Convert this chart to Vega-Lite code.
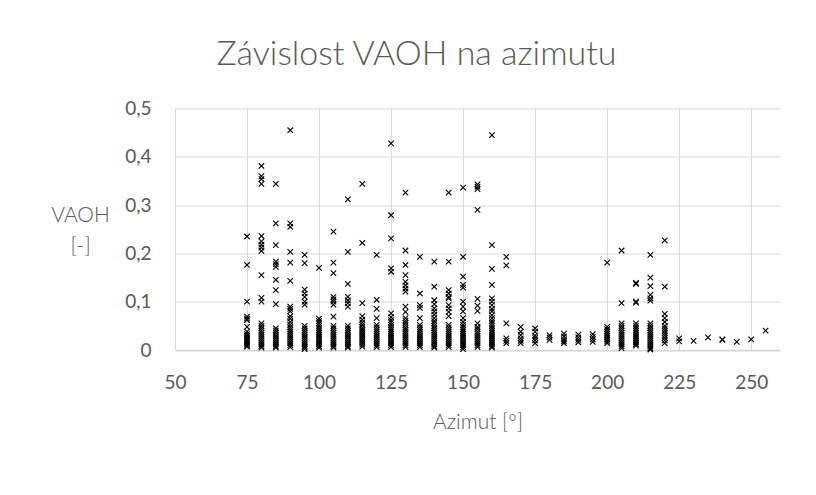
{
  "$schema": "https://vega.github.io/schema/vega-lite/v6.json",
  "width": 605,
  "height": 241.5,
  "autosize": "none",
  "padding": {"left": 175, "top": 108.5, "right": 36, "bottom": 145},
  "background": "white",
  "title": {
    "text": "Závislost VAOH na azimutu",
    "anchor": "middle",
    "frame": "group",
    "dx": -61,
    "baseline": "alphabetic",
    "offset": 1,
    "font": "Lato",
    "fontSize": 34,
    "fontWeight": 300,
    "color": "#595959"
  },
  "config": {
    "view": {"stroke": null},
    "axis": {
      "labelFont": "Lato",
      "titleFont": "Lato",
      "labelColor": "#595959",
      "titleColor": "#595959",
      "labelFontSize": 19,
      "titleFontSize": 21,
      "titleFontWeight": 300,
      "gridColor": "#d9d9d9",
      "gridWidth": 1,
      "ticks": false,
      "tickSize": 0
    }
  },
  "data": {
    "values": [
      {"azimut":75,"vaoh":0.235},{"azimut":75,"vaoh":0.176},{"azimut":75,"vaoh":0.1},{"azimut":75,"vaoh":0.069},{"azimut":75,"vaoh":0.065},{"azimut":75,"vaoh":0.062},{"azimut":75,"vaoh":0.048},{"azimut":75,"vaoh":0.038},{"azimut":75,"vaoh":0.033},{"azimut":75,"vaoh":0.029},{"azimut":75,"vaoh":0.025},{"azimut":75,"vaoh":0.021},{"azimut":75,"vaoh":0.018},{"azimut":75,"vaoh":0.015},{"azimut":75,"vaoh":0.012},{"azimut":75,"vaoh":0.009},{"azimut":75,"vaoh":0.007},
      {"azimut":80,"vaoh":0.381},{"azimut":80,"vaoh":0.36},{"azimut":80,"vaoh":0.354},{"azimut":80,"vaoh":0.344},{"azimut":80,"vaoh":0.236},{"azimut":80,"vaoh":0.225},{"azimut":80,"vaoh":0.218},{"azimut":80,"vaoh":0.212},{"azimut":80,"vaoh":0.205},{"azimut":80,"vaoh":0.155},{"azimut":80,"vaoh":0.108},{"azimut":80,"vaoh":0.1},{"azimut":80,"vaoh":0.055},{"azimut":80,"vaoh":0.05},{"azimut":80,"vaoh":0.045},{"azimut":80,"vaoh":0.04},{"azimut":80,"vaoh":0.036},{"azimut":80,"vaoh":0.032},{"azimut":80,"vaoh":0.028},{"azimut":80,"vaoh":0.024},{"azimut":80,"vaoh":0.02},{"azimut":80,"vaoh":0.016},{"azimut":80,"vaoh":0.012},{"azimut":80,"vaoh":0.008},{"azimut":80,"vaoh":0.005},
      {"azimut":85,"vaoh":0.344},{"azimut":85,"vaoh":0.262},{"azimut":85,"vaoh":0.217},{"azimut":85,"vaoh":0.183},{"azimut":85,"vaoh":0.178},{"azimut":85,"vaoh":0.172},{"azimut":85,"vaoh":0.145},{"azimut":85,"vaoh":0.124},{"azimut":85,"vaoh":0.095},{"azimut":85,"vaoh":0.045},{"azimut":85,"vaoh":0.04},{"azimut":85,"vaoh":0.036},{"azimut":85,"vaoh":0.032},{"azimut":85,"vaoh":0.028},{"azimut":85,"vaoh":0.024},{"azimut":85,"vaoh":0.02},{"azimut":85,"vaoh":0.016},{"azimut":85,"vaoh":0.012},{"azimut":85,"vaoh":0.008},{"azimut":85,"vaoh":0.005},
      {"azimut":90,"vaoh":0.455},{"azimut":90,"vaoh":0.262},{"azimut":90,"vaoh":0.255},{"azimut":90,"vaoh":0.203},{"azimut":90,"vaoh":0.181},{"azimut":90,"vaoh":0.143},{"azimut":90,"vaoh":0.09},{"azimut":90,"vaoh":0.085},{"azimut":90,"vaoh":0.08},{"azimut":90,"vaoh":0.07},{"azimut":90,"vaoh":0.065},{"azimut":90,"vaoh":0.058},{"azimut":90,"vaoh":0.052},{"azimut":90,"vaoh":0.047},{"azimut":90,"vaoh":0.042},{"azimut":90,"vaoh":0.038},{"azimut":90,"vaoh":0.034},{"azimut":90,"vaoh":0.03},{"azimut":90,"vaoh":0.026},{"azimut":90,"vaoh":0.022},{"azimut":90,"vaoh":0.018},{"azimut":90,"vaoh":0.014},{"azimut":90,"vaoh":0.01},{"azimut":90,"vaoh":0.006},
      {"azimut":95,"vaoh":0.197},{"azimut":95,"vaoh":0.18},{"azimut":95,"vaoh":0.125},{"azimut":95,"vaoh":0.117},{"azimut":95,"vaoh":0.11},{"azimut":95,"vaoh":0.1},{"azimut":95,"vaoh":0.094},{"azimut":95,"vaoh":0.05},{"azimut":95,"vaoh":0.045},{"azimut":95,"vaoh":0.04},{"azimut":95,"vaoh":0.036},{"azimut":95,"vaoh":0.032},{"azimut":95,"vaoh":0.028},{"azimut":95,"vaoh":0.024},{"azimut":95,"vaoh":0.02},{"azimut":95,"vaoh":0.016},{"azimut":95,"vaoh":0.012},{"azimut":95,"vaoh":0.008},{"azimut":95,"vaoh":0.005},{"azimut":95,"vaoh":0.002},
      {"azimut":100,"vaoh":0.17},{"azimut":100,"vaoh":0.065},{"azimut":100,"vaoh":0.06},{"azimut":100,"vaoh":0.055},{"azimut":100,"vaoh":0.05},{"azimut":100,"vaoh":0.045},{"azimut":100,"vaoh":0.04},{"azimut":100,"vaoh":0.036},{"azimut":100,"vaoh":0.032},{"azimut":100,"vaoh":0.028},{"azimut":100,"vaoh":0.024},{"azimut":100,"vaoh":0.02},{"azimut":100,"vaoh":0.016},{"azimut":100,"vaoh":0.012},{"azimut":100,"vaoh":0.008},{"azimut":100,"vaoh":0.005},
      {"azimut":105,"vaoh":0.245},{"azimut":105,"vaoh":0.181},{"azimut":105,"vaoh":0.159},{"azimut":105,"vaoh":0.11},{"azimut":105,"vaoh":0.105},{"azimut":105,"vaoh":0.1},{"azimut":105,"vaoh":0.094},{"azimut":105,"vaoh":0.069},{"azimut":105,"vaoh":0.05},{"azimut":105,"vaoh":0.045},{"azimut":105,"vaoh":0.04},{"azimut":105,"vaoh":0.036},{"azimut":105,"vaoh":0.032},{"azimut":105,"vaoh":0.028},{"azimut":105,"vaoh":0.024},{"azimut":105,"vaoh":0.02},{"azimut":105,"vaoh":0.016},{"azimut":105,"vaoh":0.012},{"azimut":105,"vaoh":0.008},{"azimut":105,"vaoh":0.005},
      {"azimut":110,"vaoh":0.312},{"azimut":110,"vaoh":0.203},{"azimut":110,"vaoh":0.137},{"azimut":110,"vaoh":0.11},{"azimut":110,"vaoh":0.103},{"azimut":110,"vaoh":0.097},{"azimut":110,"vaoh":0.09},{"azimut":110,"vaoh":0.05},{"azimut":110,"vaoh":0.045},{"azimut":110,"vaoh":0.04},{"azimut":110,"vaoh":0.036},{"azimut":110,"vaoh":0.032},{"azimut":110,"vaoh":0.028},{"azimut":110,"vaoh":0.024},{"azimut":110,"vaoh":0.02},{"azimut":110,"vaoh":0.016},{"azimut":110,"vaoh":0.012},{"azimut":110,"vaoh":0.008},{"azimut":110,"vaoh":0.005},
      {"azimut":115,"vaoh":0.344},{"azimut":115,"vaoh":0.222},{"azimut":115,"vaoh":0.097},{"azimut":115,"vaoh":0.07},{"azimut":115,"vaoh":0.063},{"azimut":115,"vaoh":0.057},{"azimut":115,"vaoh":0.052},{"azimut":115,"vaoh":0.047},{"azimut":115,"vaoh":0.043},{"azimut":115,"vaoh":0.039},{"azimut":115,"vaoh":0.035},{"azimut":115,"vaoh":0.031},{"azimut":115,"vaoh":0.027},{"azimut":115,"vaoh":0.023},{"azimut":115,"vaoh":0.019},{"azimut":115,"vaoh":0.015},{"azimut":115,"vaoh":0.011},{"azimut":115,"vaoh":0.007},
      {"azimut":120,"vaoh":0.197},{"azimut":120,"vaoh":0.104},{"azimut":120,"vaoh":0.085},{"azimut":120,"vaoh":0.066},{"azimut":120,"vaoh":0.052},{"azimut":120,"vaoh":0.047},{"azimut":120,"vaoh":0.042},{"azimut":120,"vaoh":0.038},{"azimut":120,"vaoh":0.034},{"azimut":120,"vaoh":0.03},{"azimut":120,"vaoh":0.026},{"azimut":120,"vaoh":0.022},{"azimut":120,"vaoh":0.018},{"azimut":120,"vaoh":0.014},{"azimut":120,"vaoh":0.01},{"azimut":120,"vaoh":0.006},
      {"azimut":125,"vaoh":0.428},{"azimut":125,"vaoh":0.279},{"azimut":125,"vaoh":0.231},{"azimut":125,"vaoh":0.169},{"azimut":125,"vaoh":0.162},{"azimut":125,"vaoh":0.076},{"azimut":125,"vaoh":0.068},{"azimut":125,"vaoh":0.062},{"azimut":125,"vaoh":0.057},{"azimut":125,"vaoh":0.052},{"azimut":125,"vaoh":0.047},{"azimut":125,"vaoh":0.042},{"azimut":125,"vaoh":0.038},{"azimut":125,"vaoh":0.034},{"azimut":125,"vaoh":0.03},{"azimut":125,"vaoh":0.026},{"azimut":125,"vaoh":0.022},{"azimut":125,"vaoh":0.018},{"azimut":125,"vaoh":0.014},{"azimut":125,"vaoh":0.01},{"azimut":125,"vaoh":0.006},
      {"azimut":130,"vaoh":0.326},{"azimut":130,"vaoh":0.206},{"azimut":130,"vaoh":0.176},{"azimut":130,"vaoh":0.155},{"azimut":130,"vaoh":0.141},{"azimut":130,"vaoh":0.134},{"azimut":130,"vaoh":0.127},{"azimut":130,"vaoh":0.121},{"azimut":130,"vaoh":0.09},{"azimut":130,"vaoh":0.079},{"azimut":130,"vaoh":0.066},{"azimut":130,"vaoh":0.061},{"azimut":130,"vaoh":0.056},{"azimut":130,"vaoh":0.051},{"azimut":130,"vaoh":0.046},{"azimut":130,"vaoh":0.042},{"azimut":130,"vaoh":0.038},{"azimut":130,"vaoh":0.034},{"azimut":130,"vaoh":0.03},{"azimut":130,"vaoh":0.026},{"azimut":130,"vaoh":0.022},{"azimut":130,"vaoh":0.018},{"azimut":130,"vaoh":0.014},{"azimut":130,"vaoh":0.01},{"azimut":130,"vaoh":0.006},
      {"azimut":135,"vaoh":0.193},{"azimut":135,"vaoh":0.117},{"azimut":135,"vaoh":0.093},{"azimut":135,"vaoh":0.087},{"azimut":135,"vaoh":0.066},{"azimut":135,"vaoh":0.052},{"azimut":135,"vaoh":0.047},{"azimut":135,"vaoh":0.042},{"azimut":135,"vaoh":0.038},{"azimut":135,"vaoh":0.034},{"azimut":135,"vaoh":0.03},{"azimut":135,"vaoh":0.026},{"azimut":135,"vaoh":0.022},{"azimut":135,"vaoh":0.018},{"azimut":135,"vaoh":0.014},{"azimut":135,"vaoh":0.01},{"azimut":135,"vaoh":0.006},
      {"azimut":140,"vaoh":0.183},{"azimut":140,"vaoh":0.131},{"azimut":140,"vaoh":0.103},{"azimut":140,"vaoh":0.095},{"azimut":140,"vaoh":0.086},{"azimut":140,"vaoh":0.08},{"azimut":140,"vaoh":0.073},{"azimut":140,"vaoh":0.066},{"azimut":140,"vaoh":0.06},{"azimut":140,"vaoh":0.055},{"azimut":140,"vaoh":0.05},{"azimut":140,"vaoh":0.045},{"azimut":140,"vaoh":0.04},{"azimut":140,"vaoh":0.036},{"azimut":140,"vaoh":0.032},{"azimut":140,"vaoh":0.028},{"azimut":140,"vaoh":0.024},{"azimut":140,"vaoh":0.02},{"azimut":140,"vaoh":0.016},{"azimut":140,"vaoh":0.012},{"azimut":140,"vaoh":0.008},{"azimut":140,"vaoh":0.005},
      {"azimut":145,"vaoh":0.326},{"azimut":145,"vaoh":0.183},{"azimut":145,"vaoh":0.124},{"azimut":145,"vaoh":0.117},{"azimut":145,"vaoh":0.11},{"azimut":145,"vaoh":0.107},{"azimut":145,"vaoh":0.093},{"azimut":145,"vaoh":0.086},{"azimut":145,"vaoh":0.079},{"azimut":145,"vaoh":0.07},{"azimut":145,"vaoh":0.052},{"azimut":145,"vaoh":0.047},{"azimut":145,"vaoh":0.042},{"azimut":145,"vaoh":0.038},{"azimut":145,"vaoh":0.034},{"azimut":145,"vaoh":0.03},{"azimut":145,"vaoh":0.026},{"azimut":145,"vaoh":0.022},{"azimut":145,"vaoh":0.018},{"azimut":145,"vaoh":0.014},{"azimut":145,"vaoh":0.01},{"azimut":145,"vaoh":0.006},
      {"azimut":150,"vaoh":0.336},{"azimut":150,"vaoh":0.193},{"azimut":150,"vaoh":0.152},{"azimut":150,"vaoh":0.135},{"azimut":150,"vaoh":0.129},{"azimut":150,"vaoh":0.1},{"azimut":150,"vaoh":0.09},{"azimut":150,"vaoh":0.08},{"azimut":150,"vaoh":0.066},{"azimut":150,"vaoh":0.058},{"azimut":150,"vaoh":0.052},{"azimut":150,"vaoh":0.047},{"azimut":150,"vaoh":0.042},{"azimut":150,"vaoh":0.038},{"azimut":150,"vaoh":0.034},{"azimut":150,"vaoh":0.03},{"azimut":150,"vaoh":0.026},{"azimut":150,"vaoh":0.022},{"azimut":150,"vaoh":0.018},{"azimut":150,"vaoh":0.014},{"azimut":150,"vaoh":0.01},{"azimut":150,"vaoh":0.006},{"azimut":150,"vaoh":0.002},
      {"azimut":155,"vaoh":0.343},{"azimut":155,"vaoh":0.338},{"azimut":155,"vaoh":0.333},{"azimut":155,"vaoh":0.29},{"azimut":155,"vaoh":0.106},{"azimut":155,"vaoh":0.092},{"azimut":155,"vaoh":0.081},{"azimut":155,"vaoh":0.055},{"azimut":155,"vaoh":0.048},{"azimut":155,"vaoh":0.043},{"azimut":155,"vaoh":0.038},{"azimut":155,"vaoh":0.034},{"azimut":155,"vaoh":0.03},{"azimut":155,"vaoh":0.026},{"azimut":155,"vaoh":0.022},{"azimut":155,"vaoh":0.018},{"azimut":155,"vaoh":0.014},{"azimut":155,"vaoh":0.01},{"azimut":155,"vaoh":0.006},
      {"azimut":160,"vaoh":0.445},{"azimut":160,"vaoh":0.217},{"azimut":160,"vaoh":0.168},{"azimut":160,"vaoh":0.135},{"azimut":160,"vaoh":0.107},{"azimut":160,"vaoh":0.1},{"azimut":160,"vaoh":0.093},{"azimut":160,"vaoh":0.085},{"azimut":160,"vaoh":0.08},{"azimut":160,"vaoh":0.072},{"azimut":160,"vaoh":0.066},{"azimut":160,"vaoh":0.06},{"azimut":160,"vaoh":0.055},{"azimut":160,"vaoh":0.05},{"azimut":160,"vaoh":0.045},{"azimut":160,"vaoh":0.04},{"azimut":160,"vaoh":0.036},{"azimut":160,"vaoh":0.032},{"azimut":160,"vaoh":0.028},{"azimut":160,"vaoh":0.024},{"azimut":160,"vaoh":0.02},{"azimut":160,"vaoh":0.016},{"azimut":160,"vaoh":0.012},{"azimut":160,"vaoh":0.008},{"azimut":160,"vaoh":0.005},
      {"azimut":165,"vaoh":0.193},{"azimut":165,"vaoh":0.175},{"azimut":165,"vaoh":0.055},{"azimut":165,"vaoh":0.024},{"azimut":165,"vaoh":0.019},{"azimut":165,"vaoh":0.014},
      {"azimut":170,"vaoh":0.048},{"azimut":170,"vaoh":0.038},{"azimut":170,"vaoh":0.031},{"azimut":170,"vaoh":0.024},{"azimut":170,"vaoh":0.019},{"azimut":170,"vaoh":0.014},
      {"azimut":175,"vaoh":0.045},{"azimut":175,"vaoh":0.038},{"azimut":175,"vaoh":0.03},{"azimut":175,"vaoh":0.025},{"azimut":175,"vaoh":0.02},{"azimut":175,"vaoh":0.014},
      {"azimut":180,"vaoh":0.031},{"azimut":180,"vaoh":0.026},{"azimut":180,"vaoh":0.021},
      {"azimut":185,"vaoh":0.034},{"azimut":185,"vaoh":0.028},{"azimut":185,"vaoh":0.022},{"azimut":185,"vaoh":0.018},{"azimut":185,"vaoh":0.014},
      {"azimut":190,"vaoh":0.032},{"azimut":190,"vaoh":0.026},{"azimut":190,"vaoh":0.021},{"azimut":190,"vaoh":0.016},
      {"azimut":195,"vaoh":0.033},{"azimut":195,"vaoh":0.027},{"azimut":195,"vaoh":0.022},{"azimut":195,"vaoh":0.017},
      {"azimut":200,"vaoh":0.181},{"azimut":200,"vaoh":0.048},{"azimut":200,"vaoh":0.043},{"azimut":200,"vaoh":0.038},{"azimut":200,"vaoh":0.034},{"azimut":200,"vaoh":0.03},{"azimut":200,"vaoh":0.026},{"azimut":200,"vaoh":0.022},{"azimut":200,"vaoh":0.018},{"azimut":200,"vaoh":0.014},
      {"azimut":205,"vaoh":0.206},{"azimut":205,"vaoh":0.097},{"azimut":205,"vaoh":0.055},{"azimut":205,"vaoh":0.05},{"azimut":205,"vaoh":0.045},{"azimut":205,"vaoh":0.04},{"azimut":205,"vaoh":0.036},{"azimut":205,"vaoh":0.032},{"azimut":205,"vaoh":0.028},{"azimut":205,"vaoh":0.024},{"azimut":205,"vaoh":0.02},{"azimut":205,"vaoh":0.016},{"azimut":205,"vaoh":0.012},{"azimut":205,"vaoh":0.008},{"azimut":205,"vaoh":0.004},
      {"azimut":210,"vaoh":0.139},{"azimut":210,"vaoh":0.137},{"azimut":210,"vaoh":0.1},{"azimut":210,"vaoh":0.098},{"azimut":210,"vaoh":0.055},{"azimut":210,"vaoh":0.05},{"azimut":210,"vaoh":0.045},{"azimut":210,"vaoh":0.04},{"azimut":210,"vaoh":0.036},{"azimut":210,"vaoh":0.032},{"azimut":210,"vaoh":0.028},{"azimut":210,"vaoh":0.024},{"azimut":210,"vaoh":0.02},{"azimut":210,"vaoh":0.016},{"azimut":210,"vaoh":0.012},{"azimut":210,"vaoh":0.009},
      {"azimut":215,"vaoh":0.197},{"azimut":215,"vaoh":0.15},{"azimut":215,"vaoh":0.132},{"azimut":215,"vaoh":0.114},{"azimut":215,"vaoh":0.107},{"azimut":215,"vaoh":0.102},{"azimut":215,"vaoh":0.055},{"azimut":215,"vaoh":0.05},{"azimut":215,"vaoh":0.045},{"azimut":215,"vaoh":0.04},{"azimut":215,"vaoh":0.036},{"azimut":215,"vaoh":0.032},{"azimut":215,"vaoh":0.028},{"azimut":215,"vaoh":0.024},{"azimut":215,"vaoh":0.02},{"azimut":215,"vaoh":0.016},{"azimut":215,"vaoh":0.012},{"azimut":215,"vaoh":0.008},{"azimut":215,"vaoh":0.004},{"azimut":215,"vaoh":0.001},
      {"azimut":220,"vaoh":0.227},{"azimut":220,"vaoh":0.131},{"azimut":220,"vaoh":0.075},{"azimut":220,"vaoh":0.066},{"azimut":220,"vaoh":0.058},{"azimut":220,"vaoh":0.05},{"azimut":220,"vaoh":0.045},{"azimut":220,"vaoh":0.04},{"azimut":220,"vaoh":0.035},{"azimut":220,"vaoh":0.03},{"azimut":220,"vaoh":0.025},{"azimut":220,"vaoh":0.02},{"azimut":220,"vaoh":0.014},
      {"azimut":225,"vaoh":0.024},{"azimut":225,"vaoh":0.018},
      {"azimut":230,"vaoh":0.019},
      {"azimut":235,"vaoh":0.026},
      {"azimut":240,"vaoh":0.021},{"azimut":240,"vaoh":0.022},
      {"azimut":245,"vaoh":0.017},
      {"azimut":250,"vaoh":0.022},
      {"azimut":255,"vaoh":0.04}
    ]
  },
  "mark": {
    "type": "point",
    "shape": "M-1,-1L1,1M-1,1L1,-1",
    "filled": false,
    "stroke": "#000000",
    "strokeWidth": 1.1,
    "size": 30,
    "opacity": 1
  },
  "encoding": {
    "x": {
      "field": "azimut",
      "type": "quantitative",
      "scale": {"domain": [50, 260], "nice": false, "zero": false},
      "axis": {
        "title": "Azimut [º]",
        "titleFontWeight": 300,
        "values": [50, 75, 100, 125, 150, 175, 200, 225, 250],
        "domainColor": "#d9d9d9",
        "domainWidth": 1.5,
        "labelBaseline": "alphabetic",
        "labelPadding": 38,
        "titleBaseline": "alphabetic",
        "titleY": 78,
        "labelFlush": false
      }
    },
    "y": {
      "field": "vaoh",
      "type": "quantitative",
      "scale": {"domain": [0, 0.5], "nice": false},
      "axis": {
        "title": ["VAOH", "[-]"],
        "titleFontWeight": 300,
        "values": [0, 0.1, 0.2, 0.3, 0.4, 0.5],
        "labelExpr": "replace(format(datum.value, '.1~f'), '.', ',')",
        "domain": false,
        "labelPadding": 24,
        "labelBaseline": "middle",
        "labelFlush": false,
        "titleAngle": 0,
        "titleAlign": "center",
        "titleBaseline": "alphabetic",
        "titleX": -95,
        "titleY": 113,
        "titleLineHeight": 31
      }
    }
  }
}
